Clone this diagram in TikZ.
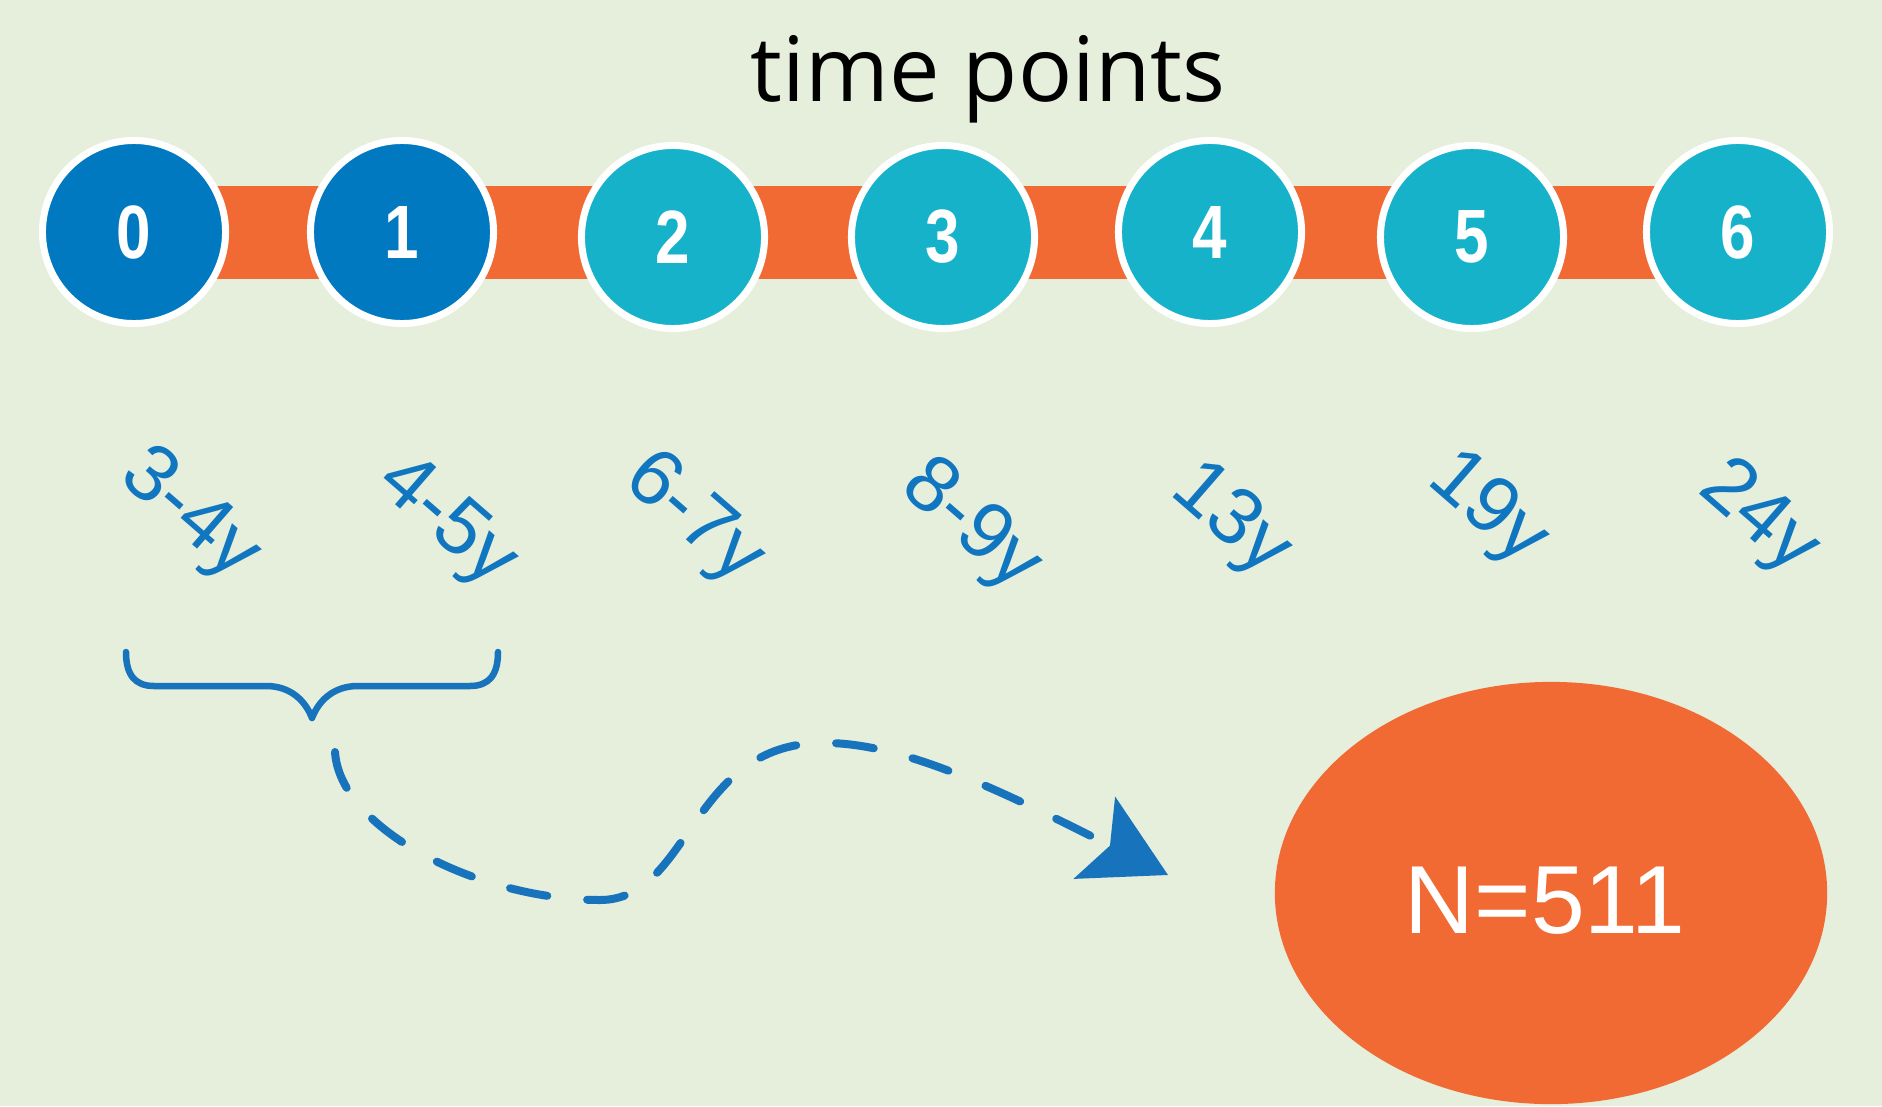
\documentclass[tikz,border=0pt]{standalone}
\usepackage{fontspec}
\newfontfamily\osfont{Open Sans}
\newfontfamily\arialfont{Liberation Sans}
\newfontfamily\narrowfont[FakeStretch=0.82]{Liberation Sans}
\usetikzlibrary{arrows.meta,shapes.geometric}
\definecolor{bgc}{RGB}{230,238,220}
\definecolor{darkblue}{RGB}{0,121,192}
\definecolor{teal}{RGB}{21,178,201}
\definecolor{orng}{RGB}{242,106,51}
\definecolor{lblue}{RGB}{16,118,192}
\definecolor{abblue}{RGB}{23,116,188}
\begin{document}
\begin{tikzpicture}[x=0.01cm,y=0.01cm,
  tp/.style={circle,draw=white,line width=0.07cm,minimum size=1.83cm,inner sep=0pt,
             text=white,font=\narrowfont\bfseries\fontsize{21.5}{24}\selectfont},
  tpdark/.style={tp,fill=darkblue},
  tplight/.style={tp,fill=teal},
  barline/.style={draw=orng,line width=0.93cm},
  agelabel/.style={text=lblue,rotate=-41,font=\arialfont\fontsize{22.8}{26}\selectfont,inner sep=0pt},
  bracestyle/.style={draw=abblue,line width=0.065cm,line cap=round,line join=round},
  flowarrow/.style={draw=abblue,line width=0.08cm,line cap=round,
     dash pattern=on 0.38cm off 0.40cm,
     -{Stealth[length=0.82cm,width=0.91cm,inset=0.17cm]}},
  resultnode/.style={ellipse,fill=orng,minimum width=5.52cm,minimum height=4.22cm,inner sep=0pt}
]
% background
\fill[bgc] (0,0) rectangle (1882,-1106);
\useasboundingbox (0,0) rectangle (1882,-1106);

% title
\node[anchor=base,inner sep=0pt,font=\osfont\fontsize{25.6}{30}\selectfont] (title) at (988,-101) {time points};

% positions
\coordinate (p0) at (134,-232);
\coordinate (p1) at (402,-232);
\coordinate (p2) at (673,-237);
\coordinate (p3) at (943,-237);
\coordinate (p4) at (1210,-232);
\coordinate (p5) at (1472,-237);
\coordinate (p6) at (1738,-232);

% bar
\draw[barline] (p0 |- 0,-232.5) -- (p6 |- 0,-232.5);

% circles
\node[tpdark] (c0) at (p0) {0};
\node[tpdark] (c1) at (p1) {1};
\node[tplight] (c2) at (p2) {2};
\node[tplight] (c3) at (p3) {3};
\node[tplight] (c4) at (p4) {4};
\node[tplight] (c5) at (p5) {5};
\node[tplight] (c6) at (p6) {6};

% age labels
\node[agelabel] (a0) at (189,-516) {3-4y};
\node[agelabel] (a1) at (446,-523) {4-5y};
\node[agelabel] (a2) at (693,-520) {6-7y};
\node[agelabel] (a3) at (970,-527) {8-9y};
\node[agelabel] (a4) at (1230,-521) {13y};
\node[agelabel] (a5) at (1487,-510) {19y};
\node[agelabel] (a6) at (1758,-519) {24y};

% brace
\draw[bracestyle] (126,-652) .. controls (126,-675) and (135,-686) .. (154,-686)
  -- (266,-686) .. controls (290,-686) and (305,-700) .. (312,-718)
  .. controls (319,-700) and (334,-686) .. (358,-686)
  -- (470,-686) .. controls (489,-686) and (498,-675) .. (498,-652);
\coordinate (bracetip) at (312,-718);

% result
\node[resultnode] (res) at (1551,-893) {};
\node[anchor=base,inner sep=0pt,text=white,font=\arialfont\fontsize{27.5}{32}\selectfont] (restext) at (1545,-933) {N=511};

% dashed arrow
\coordinate (arrstart) at (335,-752);
\coordinate (arrend) at (1168,-875);
\draw[flowarrow] (arrstart) .. controls (340,-830) and (480,-900) .. (600,-900)
  .. controls (690,-900) and (690,-745) .. (820,-743)
  .. controls (900,-741) and (1000,-790) .. (arrend);
\end{tikzpicture}
\end{document}
